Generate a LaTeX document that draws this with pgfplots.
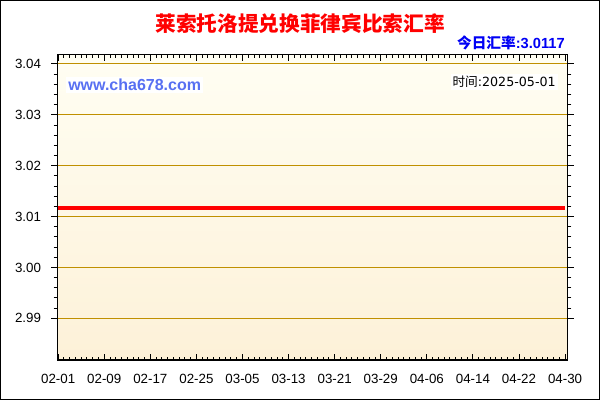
\documentclass[border=0pt]{standalone}
\usepackage{pgfplots}
\pgfplotsset{compat=1.18}
\usepackage{fontspec}
\setmainfont{Liberation Sans}
\newfontfamily\cjk{Noto Sans CJK SC}
\newfontfamily\dejavu{DejaVu Sans}

\definecolor{gridgold}{RGB}{192,144,0}
\definecolor{bgtop}{RGB}{255,254,243}
\definecolor{bgbot}{RGB}{253,241,216}
\definecolor{wwwblue}{RGB}{88,112,242}
\definecolor{rateblue}{RGB}{0,0,245}

% day 0 = 02-01
\pgfplotstableread{
day rate
0  3.0117
8  3.0117
16 3.0117
24 3.0117
32 3.0117
40 3.0117
48 3.0117
56 3.0117
64 3.0117
72 3.0117
80 3.0117
88 3.0117
}\ratedata

\begin{document}
\begin{tikzpicture}
\useasboundingbox (0,0) rectangle (450pt,300pt);
\fill[white] (0,0) rectangle (450pt,300pt);
\begin{axis}[
    at={(42.75pt,30pt)}, anchor=south west,
    scale only axis,
    width=383.25pt, height=228.75pt,
    xmin=-0.2, xmax=88.5,
    ymin=2.9818, ymax=3.04177,
    axis background/.style={top color=bgtop, bottom color=bgbot},
    xtick={0,8,...,88},
    xticklabels={02-01,02-09,02-17,02-25,03-05,03-13,03-21,03-29,04-06,04-14,04-22,04-30},
    minor x tick num=7,
    ytick={2.99,3.00,3.01,3.02,3.03,3.04},
    yticklabels={2.99,3.00,3.01,3.02,3.03,3.04},
    minor y tick num=4,
    xtick align=inside,
    ytick align=outside,
    major tick length=4.5pt,
    minor tick length=2.5pt,
    tick style={black, line width=0.75pt},
    axis line style={black, line width=0.75pt},
    ymajorgrids=true,
    major grid style={gridgold, line width=0.75pt},
    every tick label/.append style={font=\fontsize{10}{12}\selectfont, text=black},
    xticklabel style={yshift=-7pt},
    yticklabel style={xshift=-4pt},
    /pgf/number format/assume math mode=true,
    clip=false,
]
\addplot[red, line width=2.4pt] table[x=day, y=rate] {\ratedata};
\end{axis}
\node[text=red, font=\fontsize{15.5}{18}\selectfont\cjk\bfseries] at (225pt,282pt) {莱索托洛提兑换菲律宾比索汇率};
\node[anchor=east, inner sep=0pt, text=rateblue, font=\fontsize{11}{13}\selectfont\bfseries] at (423.75pt,268.1pt) {{\cjk 今日汇率}:3.0117};
\node[anchor=west, fill=white, inner sep=1.5pt, text=wwwblue, font=\fontsize{12}{14}\selectfont\bfseries] at (49.5pt,236.25pt) {www.cha678.com};
\node[anchor=east, fill=white, inner sep=1.5pt, text=black, font=\fontsize{9.5}{12}\selectfont\dejavu] at (418.5pt,238.5pt) {{\cjk 时间}:2025-05-01};
\draw[black, line width=0.75pt] (0.375pt,0.375pt) rectangle (449.625pt,299.625pt);
\end{tikzpicture}
\end{document}
